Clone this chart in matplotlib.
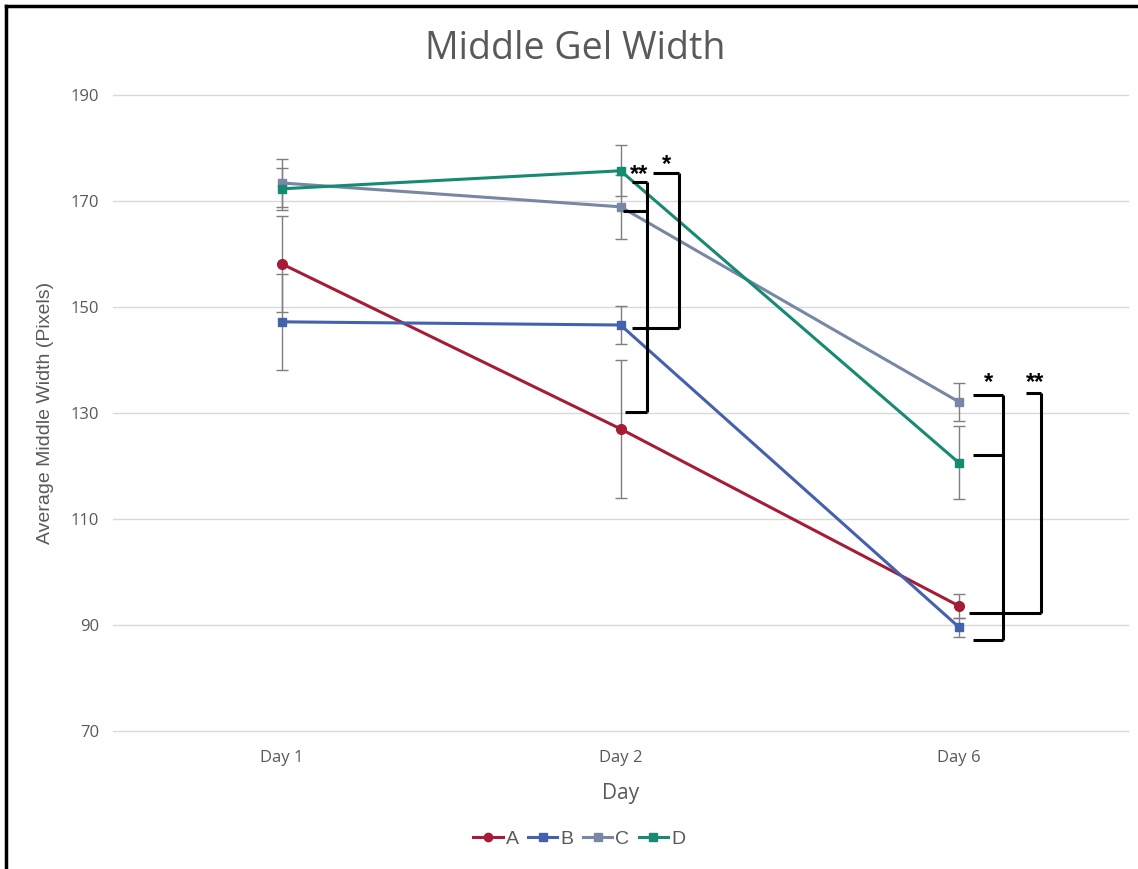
import matplotlib
matplotlib.use("Agg")
import matplotlib.pyplot as plt
from matplotlib.lines import Line2D

days = ["Day 1", "Day 2", "Day 6"]
groups = ["A", "B", "C", "D"]
mean_a = [158.1, 127.0, 93.6]
mean_b = [147.2, 146.6, 89.6]
mean_c = [173.4, 168.9, 132.1]
mean_d = [172.3, 175.7, 120.6]
err_a = [9.0, 13.0, 2.2]
err_b = [9.0, 3.6, 1.8]
err_c = [4.6, 6.0, 3.6]
err_d = [4.0, 4.8, 6.9]
colors = ["#A51C36", "#4461AE", "#7887A4", "#178A72"]
markers = ["o", "s", "s", "s"]

GREY = "#595959"

fig = plt.figure(figsize=(11.38, 8.69), dpi=100)
ax = fig.add_axes([0.0993, 0.1588, 0.8920, 0.7319])

xs = list(range(len(days)))
series = zip(groups, [mean_a, mean_b, mean_c, mean_d],
             [err_a, err_b, err_c, err_d], colors, markers)
for name, means, errs, color, marker in series:
    ax.errorbar(xs, means, yerr=errs, fmt="none", ecolor="#7f7f7f",
                elinewidth=1.0, capsize=4, capthick=1.0, zorder=2)
    ax.plot(xs, means, color=color, lw=2.2, marker=marker,
            markersize=7 if marker == "o" else 6, label=name, zorder=3)

ax.set_xlim(-0.5, 2.5)
ax.set_ylim(70, 190)
ax.set_yticks(range(70, 191, 20))
ax.set_xticks(xs)
ax.set_xticklabels(days)
ax.grid(axis="y", color="#d9d9d9", lw=1.0)
for line in ax.get_ygridlines():
    line.set_clip_on(False)
ax.set_axisbelow(True)
for spine in ax.spines.values():
    spine.set_visible(False)
ax.tick_params(length=0, labelsize=12, colors=GREY)
ax.tick_params(axis="x", pad=14)
ax.tick_params(axis="y", pad=10)
for label in ax.get_xticklabels() + ax.get_yticklabels():
    label.set_fontfamily("Open Sans")

ax.set_xlabel("Day", fontsize=15, color=GREY, family="Open Sans", labelpad=12)
ax.set_ylabel("Average Middle Width (Pixels)", fontsize=14, color=GREY,
              family="Liberation Sans", labelpad=12)
fig.text(0.505, 0.944, "Middle Gel Width", ha="center", va="center",
         fontsize=27, color=GREY, family="Open Sans")


# significance brackets (x in day-index units, y in data units)
def bracket(ticks, x_right):
    ys = [t[0] for t in ticks]
    ax.plot([x_right, x_right], [min(ys), max(ys)], color="black", lw=2.2,
            solid_capstyle="butt", zorder=4)
    for y, x_left in ticks:
        ax.plot([x_left, x_right], [y, y], color="black", lw=2.2,
                solid_capstyle="butt", zorder=4)


bracket([(173.6, 1.034), (168.1, 1.007), (130.1, 1.013)], 1.078)
bracket([(175.3, 1.096), (146.1, 1.034)], 1.173)
bracket([(133.4, 2.041), (122.1, 2.041), (87.2, 2.041)], 2.130)
bracket([(133.7, 2.198), (92.3, 2.030)], 2.242)
for x, y, s in [(1.055, 175.0, "**"), (1.137, 176.9, "*"),
                (2.086, 135.7, "*"), (2.224, 135.7, "**")]:
    ax.text(x, y, s, ha="center", va="center", fontsize=17,
            fontweight="bold", color="black", family="Liberation Sans")

handles = [Line2D([], [], color=c, marker=m, lw=2.2, markersize=6)
           for c, m in zip(colors, markers)]
leg = fig.legend(handles, groups, loc="center", bbox_to_anchor=(0.509, 0.034),
                 ncol=4, frameon=False, fontsize=14, handlelength=1.5,
                 handletextpad=0.15, columnspacing=0.5)
for text in leg.get_texts():
    text.set_color(GREY)
    text.set_family("Liberation Sans")

# outer border (top and left edges visible in the reference)
fig.add_artist(Line2D([0.0053, 1.0], [0.9931, 0.9931], color="black", lw=2.5,
                      transform=fig.transFigure))
fig.add_artist(Line2D([0.0053, 0.0053], [0.0, 0.9931], color="black", lw=2.5,
                      transform=fig.transFigure))

fig.savefig("out.png", dpi=100)
